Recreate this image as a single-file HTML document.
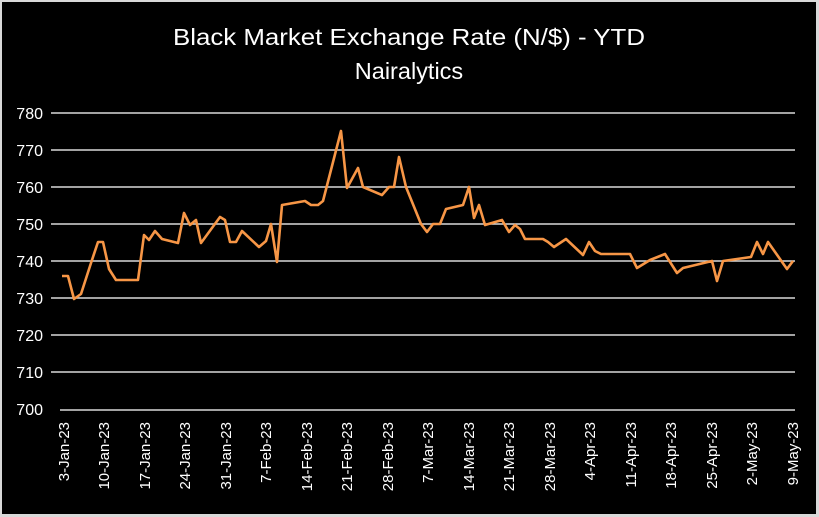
<!DOCTYPE html>
<html><head><meta charset="utf-8"><style>
html,body{margin:0;padding:0;background:#d9d9d9;}
svg{display:block;}
</style></head><body>
<svg width="819" height="517" xmlns="http://www.w3.org/2000/svg" font-family="Liberation Sans, sans-serif">
<rect x="0" y="0" width="819" height="517" fill="#d9d9d9"/>
<rect x="2" y="2" width="814" height="512" fill="#000"/>
<text x="409" y="45" fill="#fff" font-size="23.5" text-anchor="middle" textLength="472" lengthAdjust="spacingAndGlyphs">Black Market Exchange Rate  (N/$) - YTD</text>
<text x="409" y="79" fill="#fff" font-size="23.5" text-anchor="middle">Nairalytics</text>
<g stroke="#d9d9d9" stroke-width="1.6">
<line x1="51" x2="795" y1="113" y2="113"/>
<line x1="51" x2="795" y1="150" y2="150"/>
<line x1="51" x2="795" y1="187" y2="187"/>
<line x1="51" x2="795" y1="224" y2="224"/>
<line x1="51" x2="795" y1="261" y2="261"/>
<line x1="51" x2="795" y1="298" y2="298"/>
<line x1="51" x2="795" y1="335" y2="335"/>
<line x1="51" x2="795" y1="372" y2="372"/>
<line x1="60" x2="795" y1="410" y2="410"/>
</g>
<g fill="#fff" font-size="16" text-anchor="end">
<text x="43" y="119">780</text><text x="43" y="156">770</text><text x="43" y="193">760</text>
<text x="43" y="230">750</text><text x="43" y="267">740</text><text x="43" y="304">730</text>
<text x="43" y="341">720</text><text x="43" y="378">710</text><text x="43" y="415">700</text>
</g>
<g fill="#fff" font-size="15" text-anchor="end">
<text transform="translate(69,422) rotate(-90)">3-Jan-23</text>
<text transform="translate(109,422) rotate(-90)">10-Jan-23</text>
<text transform="translate(150,422) rotate(-90)">17-Jan-23</text>
<text transform="translate(190,422) rotate(-90)">24-Jan-23</text>
<text transform="translate(231,422) rotate(-90)">31-Jan-23</text>
<text transform="translate(271,422) rotate(-90)">7-Feb-23</text>
<text transform="translate(312,422) rotate(-90)">14-Feb-23</text>
<text transform="translate(352,422) rotate(-90)">21-Feb-23</text>
<text transform="translate(393,422) rotate(-90)">28-Feb-23</text>
<text transform="translate(433,422) rotate(-90)">7-Mar-23</text>
<text transform="translate(474,422) rotate(-90)">14-Mar-23</text>
<text transform="translate(514,422) rotate(-90)">21-Mar-23</text>
<text transform="translate(555,422) rotate(-90)">28-Mar-23</text>
<text transform="translate(595,422) rotate(-90)">4-Apr-23</text>
<text transform="translate(636,422) rotate(-90)">11-Apr-23</text>
<text transform="translate(676,422) rotate(-90)">18-Apr-23</text>
<text transform="translate(717,422) rotate(-90)">25-Apr-23</text>
<text transform="translate(757,422) rotate(-90)">2-May-23</text>
<text transform="translate(798,422) rotate(-90)">9-May-23</text>
</g>
<polyline fill="none" stroke="#f79646" stroke-width="2.6" stroke-linejoin="round" points="62,276 68,276 74,299 81,294 91,263 98,242 103,242 109,269 116,280 138,280 144,235 149,240 155,231 162,239 178,243 184,213 190,225 196,220 201,243 220,217 225,220 230,242 236,242 242,231 259,247 266,241 271,224 277,262 282,205 305,201 311,205 318,205 323,201 341,131 347,188 358,168 363,187 382,195 389,187 394,187 399,157 406,187 421,224 427,232 433,224 440,224 446,209 463,205 469,187 474,218 479,205 485,225 502,220 509,232 515,225 520,229 525,239 543,239 548,242 554,247 566,239 583,255 589,242 595,251 601,254 630,254 637,268 650,260 665,254 677,273 683,268 712,261 717,281 723,261 751,257 757,242 763,254 768,242 787,269 793,261"/>
</svg>
</body></html>
